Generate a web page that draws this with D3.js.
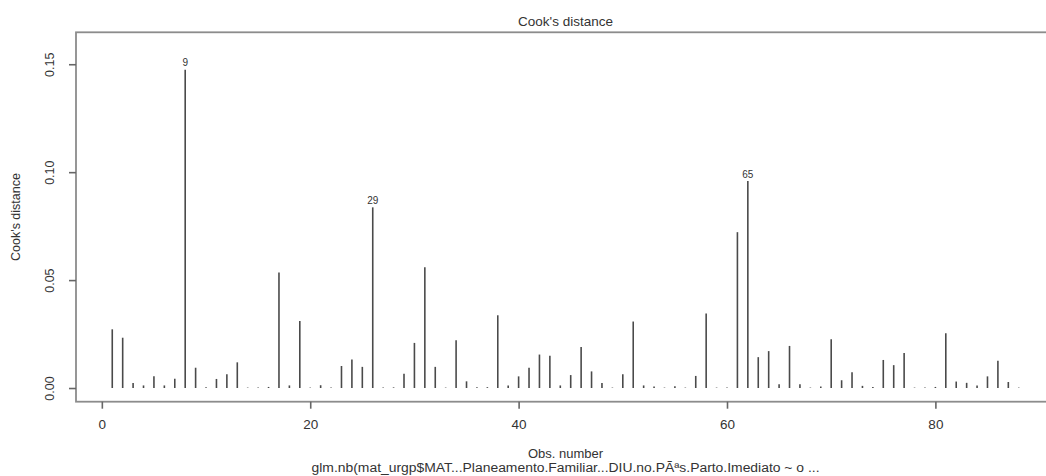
<!DOCTYPE html>
<html>
<head>
<meta charset="utf-8">
<script src="https://cdn.jsdelivr.net/npm/d3@7"></script>
<style>
  body { margin: 0; background: #fff; }
  svg text { font-family: "Liberation Sans", Arial, sans-serif; fill: #333; }
</style>
</head>
<body>
<script>
const obs = d3.range(1, 89);
const cooks = [
  0.0272, 0.0233, 0.0023, 0.0012, 0.0054, 0.0012, 0.0043, 0.1474, 0.0094, 0.0003,
  0.0042, 0.0064, 0.0119, 0.0002, 0.0002, 0.0005, 0.0535, 0.0012, 0.0311, 0.0002,
  0.0013, 0.0002, 0.0102, 0.0132, 0.0098, 0.0837, 0.0002, 0.0003, 0.0066, 0.0209,
  0.0559, 0.0098, 0.0002, 0.0221, 0.0031, 0.0004, 0.0004, 0.0337, 0.0012, 0.0054,
  0.0094, 0.0155, 0.0149, 0.0012, 0.0060, 0.0190, 0.0077, 0.0023, 0.0002, 0.0064,
  0.0308, 0.0012, 0.0007, 0.0002, 0.0008, 0.0002, 0.0056, 0.0345, 0.0002, 0.0002,
  0.0722, 0.0959, 0.0143, 0.0171, 0.0018, 0.0195, 0.0018, 0.0002, 0.0007, 0.0226,
  0.0036, 0.0073, 0.0010, 0.0005, 0.0130, 0.0106, 0.0162, 0.0002, 0.0002, 0.0005,
  0.0254, 0.0030, 0.0024, 0.0012, 0.0054, 0.0126, 0.0028, 0.0002
];
// the three most influential points, labelled with their row names
const labelObs = [8, 26, 62];
const labelText = ["9", "29", "65"];

const xTicks = [0, 20, 40, 60, 80];
const yTicks = [0, 0.05, 0.10, 0.15];

const title = "Cook's distance";
const xLabel = "Obs. number";
const yLabel = "Cook's distance";
const subTitle = "glm.nb(mat_urgp$MAT...Planeamento.Familiar...DIU.no.PÃªs.Parto.Imediato ~ o ...";

const W = 1046, H = 476;
const L = 76, R = 1055, T = 32.3, B = 401.7;

const DATA = obs.map((o, i) => ({ o: o, v: cooks[i] }));

// R style 4% padding on both axes, ylim = c(0, max * 1.075)
const ymx = d3.max(cooks) * 1.075;
const x = d3.scaleLinear().domain([1 - 0.04 * 87, 88 + 0.04 * 87]).range([L, R]);
const y = d3.scaleLinear().domain([-0.04 * ymx, ymx * 1.04]).range([B, T]);

const svg = d3.select("body").append("svg")
  .attr("width", W)
  .attr("height", H);

// bars (type = "h")
svg.append("g")
  .selectAll("line")
  .data(DATA)
  .enter()
  .append("line")
    .attr("x1", d => x(d.o))
    .attr("x2", d => x(d.o))
    .attr("y1", y(0))
    .attr("y2", d => y(d.v))
    .attr("stroke", "#4a4a4a")
    .attr("stroke-width", 1.6);

// labels of the top points
svg.append("g")
  .selectAll("text")
  .data(labelObs)
  .enter()
  .append("text")
    .attr("x", d => x(d))
    .attr("y", d => y(cooks[d - 1]) - 7)
    .attr("dy", "0.35em")
    .attr("text-anchor", "middle")
    .attr("font-size", "10px")
    .attr("fill", "#444")
    .text((d, i) => labelText[i]);

// box
svg.append("rect")
  .attr("x", L)
  .attr("y", T)
  .attr("width", R - L)
  .attr("height", B - T)
  .attr("fill", "none")
  .attr("stroke", "#8c8c8c")
  .attr("stroke-width", 1.8);

// x axis
const xAxis = svg.append("g")
  .attr("transform", `translate(0, ${B})`)
  .call(d3.axisBottom(x).tickValues(xTicks).tickSize(7).tickPadding(11).tickFormat(d3.format("d")));
xAxis.select(".domain").remove();
xAxis.selectAll("line").attr("stroke", "#666").attr("stroke-width", 1.6);
xAxis.selectAll("text").attr("font-size", "13.5px").attr("fill", "#333");

// y axis, labels parallel to the axis
const yAxis = svg.append("g")
  .attr("transform", `translate(${L}, 0)`)
  .call(d3.axisLeft(y).tickValues(yTicks).tickSize(7).tickFormat(d3.format(".2f")));
yAxis.select(".domain").remove();
yAxis.selectAll("line").attr("stroke", "#666").attr("stroke-width", 1.6);
yAxis.selectAll("text")
  .attr("transform", "rotate(-90)")
  .attr("x", 0)
  .attr("y", -26)
  .attr("dy", "0.35em")
  .attr("text-anchor", "middle")
  .attr("font-size", "12.5px")
  .attr("fill", "#333");

// titles
const cx = (L + R) / 2;
svg.append("text")
  .attr("x", cx)
  .attr("y", 26)
  .attr("text-anchor", "middle")
  .attr("font-size", "13.5px")
  .text(title);

svg.append("text")
  .attr("x", cx)
  .attr("y", 457.5)
  .attr("text-anchor", "middle")
  .attr("font-size", "13px")
  .text(xLabel);

svg.append("text")
  .attr("x", cx)
  .attr("y", 472)
  .attr("text-anchor", "middle")
  .attr("font-size", "12px")
  .attr("textLength", 508)
  .attr("lengthAdjust", "spacingAndGlyphs")
  .text(subTitle);

svg.append("text")
  .attr("transform", `translate(20, ${(T + B) / 2}) rotate(-90)`)
  .attr("text-anchor", "middle")
  .attr("font-size", "12.5px")
  .text(yLabel);
</script>
</body>
</html>
